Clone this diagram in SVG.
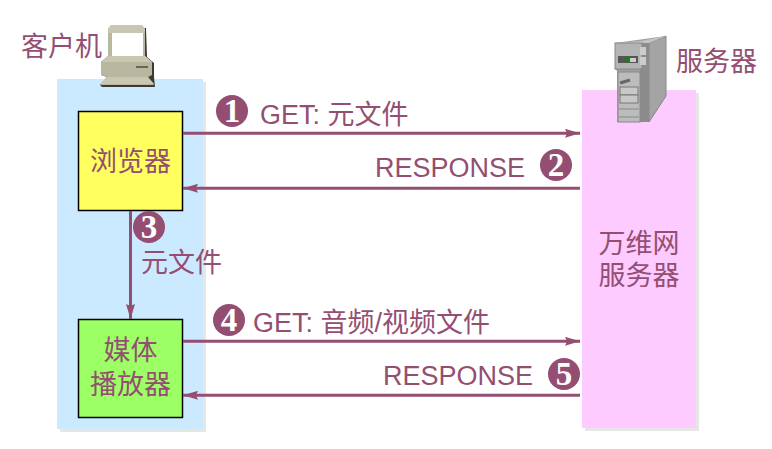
<svg xmlns="http://www.w3.org/2000/svg" width="772" height="449" viewBox="0 0 772 449">
<style>
text{font-family:"Liberation Sans","Noto Sans CJK SC",sans-serif;font-size:27px;fill:#944E72}
.c{text-anchor:middle}
.box{stroke:#000;stroke-width:1.5}
.ln{stroke:#944E72;stroke-width:3;fill:none}
.dot{fill:#944E72}
.num{font-family:"Liberation Serif",serif;font-weight:bold;font-size:33px;fill:#fff;text-anchor:middle}
</style>
<defs>
<marker id="a" viewBox="0 0 15 9" refX="15" refY="4.500" markerUnits="userSpaceOnUse" markerWidth="15" markerHeight="9" orient="auto"><path d="M0 0L15 4.500L0 9L2 4.500Z" fill="#944E72"/></marker>
</defs>
<rect width="772" height="449" fill="#fff"/>
<g id="client-panel">
<rect x="60" y="82" width="146" height="350" fill="#e6e6e6"/>
<rect x="57" y="79" width="146" height="350" fill="#cbeaff"/>
</g>
<g id="server-panel">
<rect x="585" y="93" width="114" height="338" fill="#e6e6e6"/>
<rect x="582" y="90" width="114" height="338" fill="#fdcbff"/>
</g>
<g id="computer-icon">
<path d="M112 26L146 28L147 57L154 63L154 77L155 87L102 87L100 85L107 77L101 75L101 62L108 56L108 29Z" fill="#3a3a36"/>
<path d="M111 25L142 25L145 29L145 56L152 62L152 75L148 77L154 85L100 85L107 77L101 75L101 62L108 56L108 29Z" fill="#b9b7a0"/>
<rect x="112" y="33" width="31" height="23" fill="#fff"/>
<path d="M108 29L111 25L142 25L145 29L145 33L108 33Z" fill="#c9c7b2"/>
<path d="M101 62L108 56L145 56L152 62Z" fill="#c9c7b2"/>
<path d="M107 77L148 77L154 84L100 84Z" fill="#c9c7b2"/>
<rect x="136" y="66" width="12" height="2" fill="#66665a"/>
</g>
<g id="server-icon">
<path d="M615 43L666 36L666 96L649 122L617 122L617 71L615 69Z" fill="#a0a0a0"/>
<path d="M649 43L666 36L666 96L649 122Z" fill="#a4a4a4" stroke="#888"/>
<path d="M640 43L649 43L649 122L640 122Z" fill="#8c8c8c"/>
<path d="M615 43L641 41L666 36L649 43Z" fill="#c4c4c4"/>
<rect x="615" y="43" width="27" height="26" fill="#b4b4b4" stroke="#888"/>
<rect x="618" y="56" width="20" height="7" fill="#555"/>
<rect x="626" y="58" width="3" height="4" fill="#0a8a0a"/>
<rect x="630" y="58" width="6" height="4" fill="#ccc"/>
<rect x="640" y="47" width="6" height="8" fill="#ccc"/>
<rect x="640" y="57" width="6" height="8" fill="#ccc"/>
<rect x="618" y="72" width="22" height="50" fill="#bcbcbc" stroke="#888"/>
<rect x="620" y="87" width="18" height="8" fill="#c8c8c8" stroke="#777"/>
<rect x="620" y="95" width="18" height="8" fill="#c8c8c8" stroke="#777"/>
<path d="M619 109H639M619 117H639" stroke="#888"/>
<path d="M620 83L630 80" stroke="#666" stroke-width="3"/>
</g>
<g id="browser">
<rect class="box" x="78.500" y="111.500" width="104" height="99" fill="#ffff5f"/>
<text class="c" x="130.500" y="171">浏览器</text>
</g>
<g id="media-player">
<rect class="box" x="78.500" y="319.500" width="104" height="98" fill="#9dff66"/>
<text class="c" x="130.500" y="360">媒体</text>
<text class="c" x="130.500" y="394">播放器</text>
</g>
<g id="connectors">
<line class="ln" x1="183" y1="133.300" x2="580" y2="133.300" marker-end="url(#a)"/>
<line class="ln" x1="580" y1="188.300" x2="183" y2="188.300" marker-end="url(#a)"/>
<line class="ln" x1="130.500" y1="211" x2="130.500" y2="319" marker-end="url(#a)"/>
<line class="ln" x1="183" y1="341.300" x2="580" y2="341.300" marker-end="url(#a)"/>
<line class="ln" x1="580" y1="395.300" x2="183" y2="395.300" marker-end="url(#a)"/>
</g>
<g id="labels">
<text x="21" y="56">客户机</text>
<text x="676" y="71">服务器</text>
<text class="c" x="639" y="253">万维网</text>
<text class="c" x="639" y="285">服务器</text>
<text x="260" y="124">GET: 元文件</text>
<text x="375" y="177">RESPONSE</text>
<text x="141" y="272">元文件</text>
<text x="253" y="332">GET: 音频/视频文件</text>
<text x="383" y="385">RESPONSE</text>
</g>
<g id="badges">
<circle class="dot" cx="232" cy="111" r="16"/><text class="num" x="232" y="122">1</text>
<circle class="dot" cx="556" cy="165" r="16"/><text class="num" x="556" y="176">2</text>
<circle class="dot" cx="149" cy="227" r="16"/><text class="num" x="149" y="238">3</text>
<circle class="dot" cx="229" cy="320" r="16"/><text class="num" x="229" y="331">4</text>
<circle class="dot" cx="564" cy="374" r="16"/><text class="num" x="564" y="385">5</text>
</g>
</svg>
